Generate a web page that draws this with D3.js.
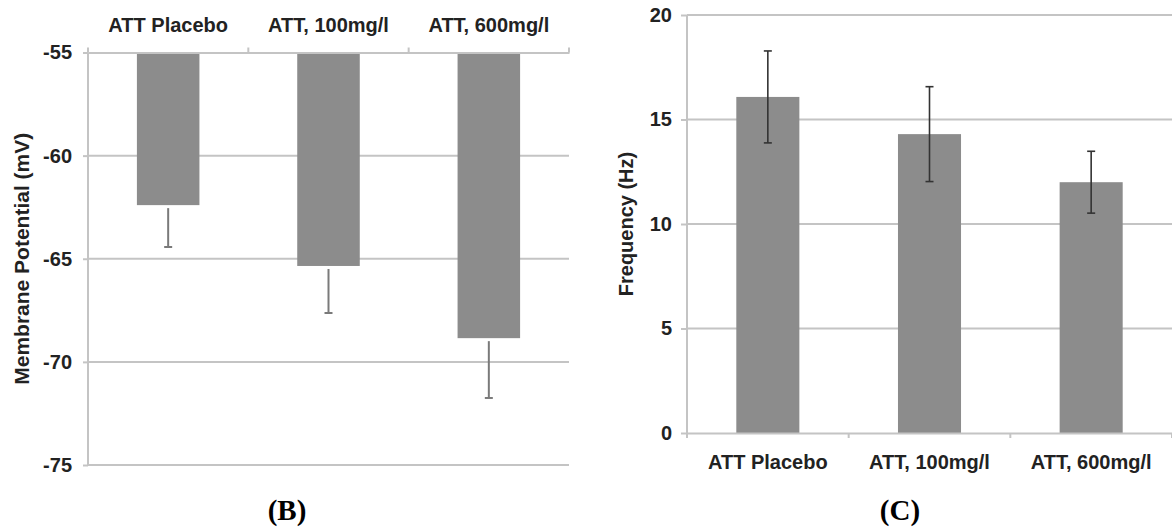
<!DOCTYPE html>
<html>
<head>
    <meta charset="utf-8">
    <title>Membrane potential and frequency</title>
    <style>
        body { margin: 0; background: #fff; }
        svg { display: block; }
        .tick-label { font-family: "Liberation Sans", Arial, sans-serif; font-size: 20px; font-weight: bold; fill: #222; }
        .axis-title { font-family: "Liberation Sans", Arial, sans-serif; font-size: 20px; font-weight: bold; fill: #222; }
        .panel { font-family: "Liberation Serif", "Times New Roman", serif; font-size: 29px; font-weight: bold; fill: #000; }
        .grid { stroke: #c4c4c4; stroke-width: 2px; }
        .bar { fill: #8c8c8c; }
    </style>
    <script src="https://d3js.org/d3.v7.min.js"></script>
</head>
<body>
    <svg width="1172" height="527"></svg>
    <script>
        const categories = ["ATT Placebo", "ATT, 100mg/l", "ATT, 600mg/l"];

        // panel B: membrane potential (mV)
        const potentialMean = [-62.4, -65.35, -68.85];
        const potentialErr = [2.03, 2.28, 2.9];
        const potentialTicks = [-55, -60, -65, -70, -75];

        // panel C: frequency (Hz)
        const freqMean = [16.08, 14.3, 12.0];
        const freqErr = [2.2, 2.27, 1.48];
        const freqTicks = [0, 5, 10, 15, 20];

        const svg = d3.select("svg");
        const gridColor = "#c4c4c4";

        function band(x0, x1) {
            return d3.scaleBand().domain(categories).range([x0, x1])
                .paddingInner(0.61).paddingOuter(0.305);
        }

        // ---------- panel B ----------
        const xB = band(88, 569);
        const yB = d3.scaleLinear().domain([-55, -75]).range([52.5, 465]);

        const gB = svg.append("g");

        gB.selectAll(".grid")
            .data(potentialTicks.slice(1))
            .enter().append("line")
            .attr("class", "grid")
            .attr("x1", 88).attr("x2", 569)
            .attr("y1", d => yB(d)).attr("y2", d => yB(d));

        gB.selectAll(".bar")
            .data(categories)
            .enter().append("rect")
            .attr("class", "bar")
            .attr("x", d => xB(d))
            .attr("width", xB.bandwidth())
            .attr("y", yB(-55))
            .attr("height", (d, i) => yB(potentialMean[i]) - yB(-55));

        // error bars (only the lower half shows below the bar)
        const errB = gB.selectAll(".errB")
            .data(categories)
            .enter().append("g")
            .attr("stroke", "#7a7a7a")
            .attr("stroke-width", 2);
        errB.append("line")
            .attr("x1", d => xB(d) + xB.bandwidth() / 2)
            .attr("x2", d => xB(d) + xB.bandwidth() / 2)
            .attr("y1", (d, i) => yB(potentialMean[i]) + 3)
            .attr("y2", (d, i) => yB(potentialMean[i] - potentialErr[i]));
        errB.append("line")
            .attr("x1", d => xB(d) + xB.bandwidth() / 2 - 4)
            .attr("x2", d => xB(d) + xB.bandwidth() / 2 + 4)
            .attr("y1", (d, i) => yB(potentialMean[i] - potentialErr[i]))
            .attr("y2", (d, i) => yB(potentialMean[i] - potentialErr[i]));

        // left axis
        const axB = gB.append("g")
            .attr("transform", "translate(88,0)")
            .call(d3.axisLeft(yB).tickValues(potentialTicks).tickSize(5).tickPadding(11).tickFormat(d => String(d)));
        axB.select(".domain").attr("stroke", gridColor).attr("stroke-width", 2).attr("d", `M0,${yB(-55)}V${yB(-75)}`);
        axB.selectAll(".tick line").attr("stroke", gridColor).attr("stroke-width", 2);
        axB.selectAll(".tick text").attr("class", "tick-label").attr("fill", null);

        // top category axis
        const topB = gB.append("g")
            .attr("transform", `translate(0,${yB(-55)})`)
            .call(d3.axisTop(xB).tickSize(0).tickPadding(21));
        topB.select(".domain").attr("stroke", gridColor).attr("stroke-width", 2);
        topB.selectAll(".tick text").attr("class", "tick-label").attr("fill", null);
        gB.selectAll(".bTick")
            .data(d3.range(categories.length + 1))
            .enter().append("line")
            .attr("stroke", gridColor).attr("stroke-width", 2)
            .attr("x1", i => 88 + i * xB.step()).attr("x2", i => 88 + i * xB.step())
            .attr("y1", yB(-55)).attr("y2", yB(-55) - 5);

        gB.append("text")
            .attr("class", "axis-title")
            .style("font-size", "21px")
            .attr("transform", `translate(29,${(yB(-55) + yB(-75)) / 2}) rotate(-90)`)
            .attr("text-anchor", "middle")
            .text("Membrane Potential (mV)");

        gB.append("text")
            .attr("class", "panel")
            .attr("x", 287).attr("y", 520)
            .attr("text-anchor", "middle")
            .text("(B)");

        // ---------- panel C ----------
        const xC = band(687, 1172);
        const yC = d3.scaleLinear().domain([0, 20]).range([433, 15]);

        const gC = svg.append("g");

        gC.selectAll(".grid")
            .data(freqTicks.slice(1))
            .enter().append("line")
            .attr("class", "grid")
            .attr("x1", 687).attr("x2", 1172)
            .attr("y1", d => yC(d)).attr("y2", d => yC(d));

        gC.selectAll(".bar")
            .data(categories)
            .enter().append("rect")
            .attr("class", "bar")
            .attr("x", d => xC(d))
            .attr("width", xC.bandwidth())
            .attr("y", (d, i) => yC(freqMean[i]))
            .attr("height", (d, i) => yC(0) - yC(freqMean[i]));

        const errC = gC.selectAll(".errC")
            .data(categories)
            .enter().append("g")
            .attr("stroke", "#333")
            .attr("stroke-width", 1.6);
        errC.append("line")
            .attr("x1", d => xC(d) + xC.bandwidth() / 2)
            .attr("x2", d => xC(d) + xC.bandwidth() / 2)
            .attr("y1", (d, i) => yC(freqMean[i] + freqErr[i]))
            .attr("y2", (d, i) => yC(freqMean[i] - freqErr[i]));
        errC.selectAll("line.cap")
            .data((d, i) => [
                { x: xC(d) + xC.bandwidth() / 2, v: freqMean[i] + freqErr[i] },
                { x: xC(d) + xC.bandwidth() / 2, v: freqMean[i] - freqErr[i] }
            ])
            .enter().append("line")
            .attr("class", "cap")
            .attr("x1", d => d.x - 4).attr("x2", d => d.x + 4)
            .attr("y1", d => yC(d.v)).attr("y2", d => yC(d.v));

        const axC = gC.append("g")
            .attr("transform", "translate(687,0)")
            .call(d3.axisLeft(yC).tickValues(freqTicks).tickSize(6).tickPadding(9));
        axC.select(".domain").attr("stroke", gridColor).attr("stroke-width", 2).attr("d", `M0,${yC(0)}V${yC(20)}`);
        axC.selectAll(".tick line").attr("stroke", gridColor).attr("stroke-width", 2);
        axC.selectAll(".tick text").attr("class", "tick-label").attr("fill", null);

        const botC = gC.append("g")
            .attr("transform", `translate(0,${yC(0)})`)
            .call(d3.axisBottom(xC).tickSize(0).tickPadding(22));
        botC.select(".domain").attr("stroke", gridColor).attr("stroke-width", 2);
        botC.selectAll(".tick text").attr("class", "tick-label").attr("fill", null);
        gC.selectAll(".cTick")
            .data(d3.range(categories.length + 1))
            .enter().append("line")
            .attr("stroke", gridColor).attr("stroke-width", 2)
            .attr("x1", i => 687 + i * xC.step()).attr("x2", i => 687 + i * xC.step())
            .attr("y1", yC(0)).attr("y2", yC(0) + 5);

        gC.append("text")
            .attr("class", "axis-title")
            .attr("transform", `translate(633,${(yC(0) + yC(20)) / 2}) rotate(-90)`)
            .attr("text-anchor", "middle")
            .text("Frequency (Hz)");

        gC.append("text")
            .attr("class", "panel")
            .attr("x", 900).attr("y", 520)
            .attr("text-anchor", "middle")
            .text("(C)");
    </script>
</body>
</html>
